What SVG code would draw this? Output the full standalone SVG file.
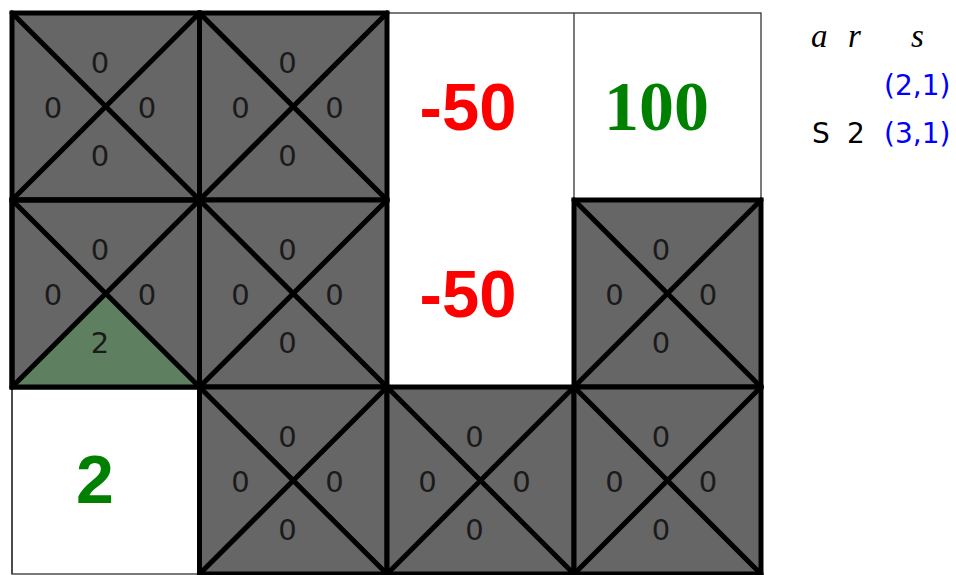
<svg xmlns="http://www.w3.org/2000/svg" width="956" height="575" viewBox="0 0 956 575">
<style>
.bg{fill:#ffffff}
.thin{fill:none;stroke:#333;stroke-width:1.3}
.gray{fill:#666666;stroke:#000;stroke-width:5;stroke-linejoin:miter}
.diag{stroke:#000;stroke-width:5;stroke-linecap:round}
.q{font-family:"DejaVu Sans",sans-serif;font-size:29px;fill:#1a1a1a;text-anchor:middle}
.neg{font-family:"Liberation Sans",Arial,sans-serif;font-weight:bold;font-size:67px;fill:#ff0000;text-anchor:middle}
.pos{font-family:"Liberation Serif","Times New Roman",serif;font-weight:bold;font-size:70px;fill:#008000;text-anchor:middle}
.pos2{font-family:"Liberation Sans",Arial,sans-serif;font-weight:bold;font-size:68px;fill:#008000;text-anchor:middle}
.hdr{font-family:"Liberation Serif","Times New Roman",serif;font-style:italic;font-size:33px;fill:#000}
.tb{font-family:"DejaVu Sans",sans-serif;font-size:28px;fill:#000}
.blue{fill:#0000ff}
</style>
<rect class="bg" x="0" y="0" width="956" height="575"/>
<g id="grid-lines">
<rect class="thin" x="12" y="13" width="749" height="561"/>
<line class="thin" x1="574" y1="13" x2="574" y2="200"/>
<line class="thin" x1="12" y1="387" x2="12" y2="574"/>
</g>
<g id="cell-0-0">
<rect class="gray" x="12" y="13" width="187.5" height="187"/>
<line class="diag" x1="12" y1="13" x2="199.5" y2="200"/><line class="diag" x1="199.5" y1="13" x2="12" y2="200"/>
<text class="q" x="100" y="72.5">0</text><text class="q" x="53" y="118">0</text><text class="q" x="147" y="118">0</text><text class="q" x="100" y="165.5">0</text>
</g>
<g id="cell-0-1">
<rect class="gray" x="199.5" y="13" width="187.5" height="187"/>
<line class="diag" x1="199.5" y1="13" x2="387" y2="200"/><line class="diag" x1="387" y1="13" x2="199.5" y2="200"/>
<text class="q" x="287.5" y="72.5">0</text><text class="q" x="240.5" y="118">0</text><text class="q" x="334.5" y="118">0</text><text class="q" x="287.5" y="165.5">0</text>
</g>
<g id="cell-1-0">
<rect class="gray" x="12" y="200" width="187.5" height="187"/>
<polygon points="12,387 199.5,387 105.75,293.5" fill="#5f8060"/>
<line class="diag" x1="12" y1="200" x2="199.5" y2="387"/><line class="diag" x1="199.5" y1="200" x2="12" y2="387"/>
<rect x="12" y="200" width="187.5" height="187" fill="none" stroke="#000" stroke-width="5"/>
<text class="q" x="100" y="259.5">0</text><text class="q" x="53" y="305">0</text><text class="q" x="147" y="305">0</text><text class="q" x="100" y="352.5">2</text>
</g>
<g id="cell-1-1">
<rect class="gray" x="199.5" y="200" width="187.5" height="187"/>
<line class="diag" x1="199.5" y1="200" x2="387" y2="387"/><line class="diag" x1="387" y1="200" x2="199.5" y2="387"/>
<text class="q" x="287.5" y="259.5">0</text><text class="q" x="240.5" y="305">0</text><text class="q" x="334.5" y="305">0</text><text class="q" x="287.5" y="352.5">0</text>
</g>
<g id="cell-1-3">
<rect class="gray" x="574" y="200" width="187" height="187"/>
<line class="diag" x1="574" y1="200" x2="761" y2="387"/><line class="diag" x1="761" y1="200" x2="574" y2="387"/>
<text class="q" x="661" y="259.5">0</text><text class="q" x="614.5" y="305">0</text><text class="q" x="708" y="305">0</text><text class="q" x="661" y="352.5">0</text>
</g>
<g id="cell-2-1">
<rect class="gray" x="199.5" y="387" width="187.5" height="187"/>
<line class="diag" x1="199.5" y1="387" x2="387" y2="574"/><line class="diag" x1="387" y1="387" x2="199.5" y2="574"/>
<text class="q" x="287.5" y="446.5">0</text><text class="q" x="240.5" y="492">0</text><text class="q" x="334.5" y="492">0</text><text class="q" x="287.5" y="539.5">0</text>
</g>
<g id="cell-2-2">
<rect class="gray" x="387" y="387" width="187" height="187"/>
<line class="diag" x1="387" y1="387" x2="574" y2="574"/><line class="diag" x1="574" y1="387" x2="387" y2="574"/>
<text class="q" x="474.5" y="446.5">0</text><text class="q" x="427.5" y="492">0</text><text class="q" x="521.5" y="492">0</text><text class="q" x="474.5" y="539.5">0</text>
</g>
<g id="cell-2-3">
<rect class="gray" x="574" y="387" width="187" height="187"/>
<line class="diag" x1="574" y1="387" x2="761" y2="574"/><line class="diag" x1="761" y1="387" x2="574" y2="574"/>
<text class="q" x="661" y="446.5">0</text><text class="q" x="614.5" y="492">0</text><text class="q" x="708" y="492">0</text><text class="q" x="661" y="539.5">0</text>
</g>
<g id="cell-0-2"><text class="neg" x="468" y="130">-50</text></g>
<g id="cell-0-3"><text class="pos" x="656.5" y="130">100</text></g>
<g id="cell-1-2"><text class="neg" x="468" y="317">-50</text></g>
<g id="cell-2-0"><text class="pos2" x="95" y="503">2</text></g>
<g id="table">
<text class="hdr" x="811" y="47">a</text>
<text class="hdr" x="848" y="47">r</text>
<text class="hdr" x="911" y="47">s</text>
<text class="tb blue" x="884" y="95">(2,1)</text>
<text class="tb" x="812" y="143">S</text>
<text class="tb" x="847" y="143">2</text>
<text class="tb blue" x="884" y="143">(3,1)</text>
</g>
</svg>
